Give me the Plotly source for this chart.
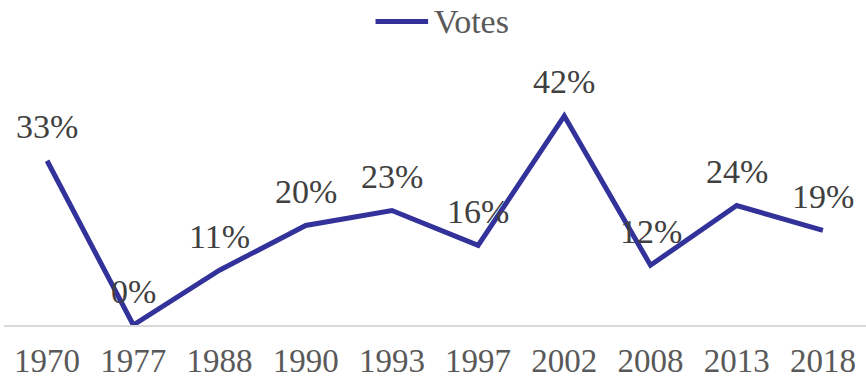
import plotly.graph_objects as go

years = ["1970", "1977", "1988", "1990", "1993", "1997", "2002", "2008", "2013", "2018"]
votes = [0.33, 0.00, 0.11, 0.20, 0.23, 0.16, 0.42, 0.12, 0.24, 0.19]
series_name = "Votes"

FONT = "Liberation Serif"
LINE_COLOR = "#32329a"

fig = go.Figure()
fig.add_trace(go.Scatter(
    x=years, y=votes, mode="lines", name=series_name, showlegend=False,
    line=dict(color=LINE_COLOR, width=5),
))

# value labels above each point (category axis: annotations use the category index)
for i, v in enumerate(votes):
    fig.add_annotation(
        x=i, y=v, text=f"{v:.0%}", showarrow=False,
        yanchor="middle", yshift=34,
        font=dict(family=FONT, size=34, color="#404040"),
    )

# legend key drawn above the plot: line swatch + series name
fig.add_shape(type="line", xref="paper", yref="paper",
              x0=0.431, x1=0.492, y0=1.355, y1=1.355,
              line=dict(color=LINE_COLOR, width=5))
fig.add_annotation(xref="paper", yref="paper", x=0.497, y=1.355,
                   xanchor="left", yanchor="middle", showarrow=False,
                   text=series_name,
                   font=dict(family=FONT, size=34, color="#595959"))

fig.update_layout(
    width=866, height=381,
    margin=dict(l=4, r=0, t=101, b=56),
    paper_bgcolor="white", plot_bgcolor="white",
    showlegend=False,
    xaxis=dict(
        type="category", range=[-0.5, len(years) - 0.5], automargin=False,
        showgrid=False, showline=True, linecolor="#d9d9d9", linewidth=1.5,
        ticks="outside", ticklen=6, tickcolor="rgba(0,0,0,0)",
        tickfont=dict(family=FONT, size=33, color="#595959"),
    ),
    yaxis=dict(range=[0, 0.45], visible=False, showgrid=False, zeroline=False,
               automargin=False),
)

fig.write_html("out.html")
